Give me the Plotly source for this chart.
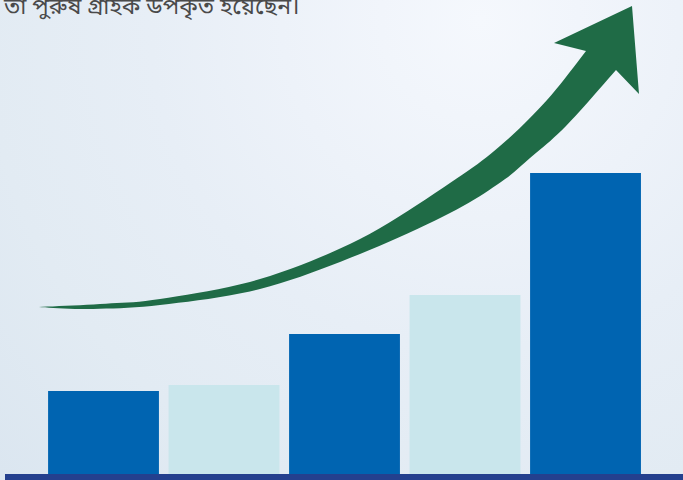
import base64
import plotly.graph_objects as go

# ---- data ----
categories = [0, 1, 2, 3, 4]
values = [83, 89, 140, 179, 301]
bar_colors = ["#0064b1", "#c9e6ec", "#0064b1", "#c9e6ec", "#0064b1"]
caption = "তা পুরুষ গ্রাহক উপকৃত হয়েছেন।"

W, H = 683, 480

# decorative arrow outline (pixel coords)
arrow_upper = [(39, 307), (100, 304), (160, 299), (260, 279), (360, 239), (450, 183), (500, 146), (547, 100), (586, 51)]
arrow_head = [(554, 43), (632, 6), (639, 94), (616, 70)]
arrow_lower = [(616, 70), (566, 126), (530, 158), (501, 182), (450, 213), (360, 254), (260, 289), (160, 305), (87, 309), (39, 307)]


def catmull(pts, n=10):
    out = []
    for i in range(len(pts) - 1):
        p0 = pts[i - 1] if i > 0 else pts[i]
        p1 = pts[i]
        p2 = pts[i + 1]
        p3 = pts[i + 2] if i + 2 < len(pts) else pts[i + 1]
        for k in range(n):
            t = k / n
            t2, t3 = t * t, t * t * t
            x = 0.5 * ((2 * p1[0]) + (-p0[0] + p2[0]) * t + (2 * p0[0] - 5 * p1[0] + 4 * p2[0] - p3[0]) * t2 + (-p0[0] + 3 * p1[0] - 3 * p2[0] + p3[0]) * t3)
            y = 0.5 * ((2 * p1[1]) + (-p0[1] + p2[1]) * t + (2 * p0[1] - 5 * p1[1] + 4 * p2[1] - p3[1]) * t2 + (-p0[1] + 3 * p1[1] - 3 * p2[1] + p3[1]) * t3)
            out.append((x, y))
    out.append(pts[-1])
    return out


outline = catmull(arrow_upper) + arrow_head[:-1] + catmull(arrow_lower)
path = "M " + " L ".join(f"{x / W:.5f},{1 - y / H:.5f}" for x, y in outline) + " Z"

svg = (
    f'<svg xmlns="http://www.w3.org/2000/svg" width="{W}" height="{H}">'
    '<defs><radialGradient id="g" cx="480" cy="20" r="660" gradientUnits="userSpaceOnUse">'
    '<stop offset="0" stop-color="#f5f8fd"/><stop offset="0.3" stop-color="#edf2f9"/>'
    '<stop offset="0.5" stop-color="#e7eef6"/><stop offset="0.75" stop-color="#e2ebf3"/>'
    '<stop offset="1" stop-color="#dbe6f0"/></radialGradient></defs>'
    f'<rect width="{W}" height="{H}" fill="url(#g)"/></svg>'
)
bg_src = "data:image/svg+xml;base64," + base64.b64encode(svg.encode()).decode()

fig = go.Figure()
fig.add_trace(go.Bar(x=categories, y=values, marker=dict(color=bar_colors, line=dict(width=0)),
                     width=0.92, hoverinfo="skip"))

fig.update_layout(
    width=W, height=H,
    margin=dict(l=0, r=0, t=0, b=0),
    paper_bgcolor="rgba(0,0,0,0)",
    plot_bgcolor="rgba(0,0,0,0)",
    showlegend=False,
    xaxis=dict(range=[-0.859, 4.809], visible=False, fixedrange=True),
    yaxis=dict(range=[-6, 474], visible=False, fixedrange=True),
    images=[dict(source=bg_src, xref="paper", yref="paper", x=0, y=1, sizex=1, sizey=1,
                 sizing="stretch", layer="below")],
    shapes=[
        dict(type="path", xref="paper", yref="paper", path=path,
             fillcolor="#1f6b46", line=dict(width=0), layer="above"),
        dict(type="rect", xref="paper", yref="paper", x0=5 / W, x1=1, y0=0, y1=6 / H,
             fillcolor="#24408e", line=dict(width=0), layer="above"),
    ],
    annotations=[dict(text=caption, xref="paper", yref="paper", x=302 / W, y=1 + 9 / H,
                      xanchor="right", yanchor="top", showarrow=False,
                      font=dict(size=23, color="#4a4a4a", family="Noto Sans Bengali, Noto Sans, sans-serif"))],
)

fig.write_html("out.html", config={"displayModeBar": False})
